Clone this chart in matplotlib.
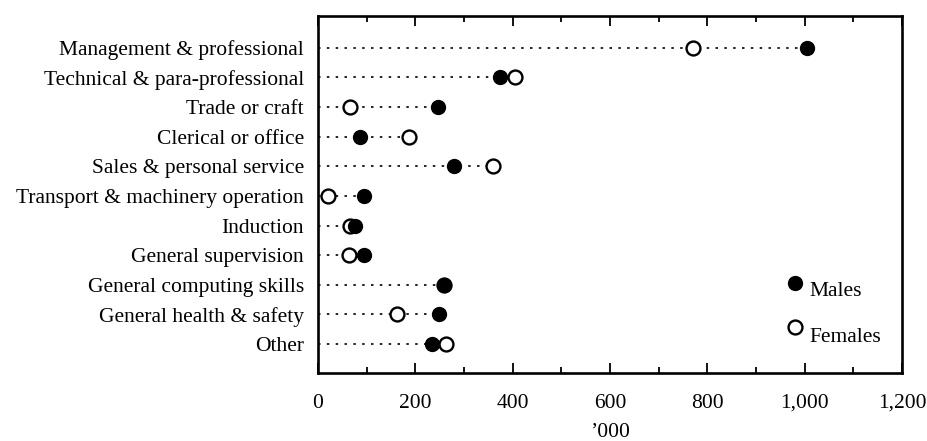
import matplotlib
matplotlib.use("Agg")
import matplotlib.pyplot as plt
from matplotlib.ticker import MultipleLocator, FuncFormatter

categories = [
    "Management & professional",
    "Technical & para-professional",
    "Trade or craft",
    "Clerical or office",
    "Sales & personal service",
    "Transport & machinery operation",
    "Induction",
    "General supervision",
    "General computing skills",
    "General health & safety",
    "Other",
]
males = [1005, 375, 247, 87, 279, 95, 77, 95, 258, 248, 235]
females = [770, 404, 66, 188, 359, 21, 66, 64, 258, 162, 264]

plt.rcParams['font.family'] = ['Liberation Serif', 'DejaVu Serif']
FS = 15.5

fig = plt.figure(figsize=(9.27, 4.41), dpi=100)
ax = fig.add_axes([0.343, 0.154, 0.630, 0.810])

y = list(range(len(categories)))
for yi, m, f in zip(y, males, females):
    ax.plot([0, max(m, f)], [yi, yi], linestyle=(0, (1.5, 3.8)), color='black', lw=1.2, zorder=1)

ax.plot(females, y, 'o', ms=10, mfc='white', mec='black', mew=1.7, ls='none', zorder=2)
ax.plot(males, y, 'o', ms=10, mfc='black', mec='black', ls='none', zorder=3)

ax.set_xlim(0, 1200)
ax.set_ylim(len(categories) - 1 + 0.98, -1.08)
ax.set_yticks(y)
ax.set_yticklabels(categories, fontsize=FS)
ax.tick_params(axis='y', length=0, pad=10)

ax.xaxis.set_major_locator(MultipleLocator(200))
ax.xaxis.set_minor_locator(MultipleLocator(100))
ax.xaxis.set_major_formatter(FuncFormatter(lambda v, p: f"{int(v):,}"))
ax.tick_params(axis='x', which='major', direction='in', length=7, width=1.3,
               top=True, labelsize=FS, pad=15)
ax.tick_params(axis='x', which='minor', direction='in', length=4, width=1.3, top=True)
for s in ax.spines.values():
    s.set_linewidth(1.9)

ax.set_xlabel("\u2019000", fontsize=FS, labelpad=7)

# legend drawn in axes coordinates
ax.plot([0.817], [0.252], 'o', ms=10, mfc='black', mec='black',
        transform=ax.transAxes, clip_on=False)
ax.plot([0.817], [0.129], 'o', ms=10, mfc='white', mec='black', mew=1.7,
        transform=ax.transAxes, clip_on=False)
ax.text(0.842, 0.227, "Males", transform=ax.transAxes, fontsize=FS, va='center', ha='left')
ax.text(0.842, 0.101, "Females", transform=ax.transAxes, fontsize=FS, va='center', ha='left')

fig.savefig("out.png", dpi=100)
